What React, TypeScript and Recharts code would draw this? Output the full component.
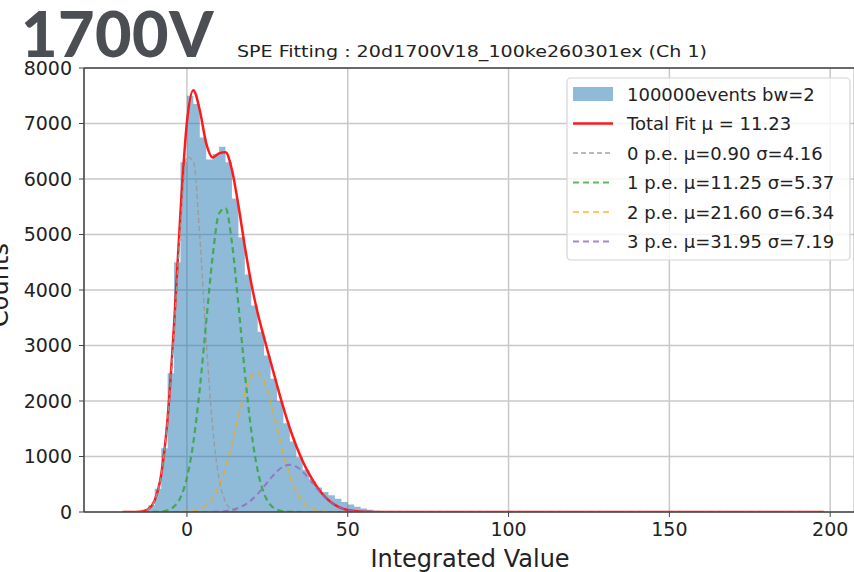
import React from "react";
import { Area, CartesianGrid, ComposedChart, Line, ReferenceLine, XAxis, YAxis } from "recharts";

const fitX = [-20, -18, -16, -14, -12, -10, -8, -6, -4, -2, 0, 2, 4, 6, 8, 10, 12, 14, 16, 18, 20, 22, 24, 26, 28, 30, 32, 34, 36, 38, 40, 42, 44, 46, 48, 50, 52, 54, 56, 58, 60, 198];
const totalFit = [0, 0, 2, 11, 53, 214, 672, 1688, 3371, 5401, 7023, 7600, 7238, 6642, 6388, 6461, 6481, 6163, 5527, 4785, 4121, 3586, 3137, 2712, 2288, 1879, 1509, 1189, 916, 686, 491, 334, 214, 128, 70, 36, 17, 8, 3, 1, 0, 0];
const pe0 = [0, 0, 2, 11, 53, 212, 663, 1656, 3272, 5136, 6399, 6325, 4962, 3090, 1527, 599, 186, 46, 9, 1, 0, 0, 0, 0, 0, 0, 0, 0, 0, 0, 0, 0, 0, 0, 0, 0, 0, 0, 0, 0, 0, 0];
const pe1 = [0, 0, 0, 0, 0, 2, 9, 32, 98, 263, 616, 1254, 2223, 3429, 4605, 5382, 5476, 4850, 3739, 2510, 1466, 745, 330, 127, 43, 12, 3, 1, 0, 0, 0, 0, 0, 0, 0, 0, 0, 0, 0, 0, 0, 0];
const pe2 = [0, 0, 0, 0, 0, 0, 0, 0, 1, 2, 8, 21, 53, 122, 253, 472, 801, 1229, 1706, 2145, 2441, 2515, 2346, 1981, 1514, 1048, 656, 372, 191, 89, 37, 14, 5, 2, 0, 0, 0, 0, 0, 0, 0, 0];
const pe3 = [0, 0, 0, 0, 0, 0, 0, 0, 0, 0, 0, 0, 0, 1, 3, 8, 18, 38, 73, 129, 214, 326, 461, 604, 731, 819, 850, 816, 725, 597, 454, 320, 209, 126, 70, 36, 17, 8, 3, 1, 0, 0];

// histogram, bin width 2, value at the left edge of each bin
const histEdges = [-14, -12, -10, -8, -6, -4, -2, 0, 2, 4, 6, 8, 10, 12, 14, 16, 18, 20, 22, 24, 26, 28, 30, 32, 34, 36, 38, 40, 42, 44, 46, 48, 50, 52, 54, 56, 58, 60, 62, 64];
const histCounts = [30, 120, 420, 1150, 2500, 4500, 6300, 7500, 7350, 6750, 6350, 6450, 6580, 6300, 5650, 4950, 4280, 3720, 3250, 2820, 2400, 2000, 1600, 1270, 985, 760, 560, 440, 360, 300, 240, 180, 135, 95, 65, 40, 22, 10, 4, 0];

const xTicks = [0, 50, 100, 150, 200];
const yTicks = [0, 1000, 2000, 3000, 4000, 5000, 6000, 7000, 8000];

const legendLabels = [
  "100000events bw=2",
  "Total Fit \u03bc = 11.23",
  "0 p.e. \u03bc=0.90 \u03c3=4.16",
  "1 p.e. \u03bc=11.25 \u03c3=5.37",
  "2 p.e. \u03bc=21.60 \u03c3=6.34",
  "3 p.e. \u03bc=31.95 \u03c3=7.19",
];

const FONT = "'DejaVu Sans', sans-serif";

type Row = { x: number; hist?: number; total?: number; p0?: number; p1?: number; p2?: number; p3?: number };

function buildRows(): Row[] {
  const m = new Map<number, Row>();
  const get = (x: number) => {
    if (!m.has(x)) m.set(x, { x });
    return m.get(x)!;
  };
  fitX.forEach((x, i) => {
    const r = get(x);
    r.total = totalFit[i];
    r.p0 = pe0[i];
    r.p1 = pe1[i];
    r.p2 = pe2[i];
    r.p3 = pe3[i];
  });
  histEdges.forEach((x, i) => {
    get(x).hist = histCounts[i];
  });
  return [...m.values()].sort((a, b) => a.x - b.x);
}

const rows = buildRows();

const comps = [
  { key: "p0", color: "#999999", dash: "5 3", width: 1.4, opacity: 0.9 },
  { key: "p1", color: "#2ca02c", dash: "6 4", width: 2.2, opacity: 0.75 },
  { key: "p2", color: "#ffa500", dash: "6 4", width: 2, opacity: 0.6 },
  { key: "p3", color: "#9467bd", dash: "6 4", width: 2, opacity: 0.8 },
];

function Overlay() {
  const rowY = (i: number) => 94 + i * 29.5;
  return (
    <svg width={854} height={572} style={{ position: "absolute", left: 0, top: 0, pointerEvents: "none" }}>
      <text x={21} y={57} fontFamily="Lato, sans-serif" fontWeight={900} fontSize={63} fill="#4b4f54" letterSpacing={0.5}>1700V</text>
      <text x={237} y={57} fontFamily={FONT} fontSize={16} fill="#222" textLength={470} lengthAdjust="spacingAndGlyphs">
        SPE Fitting : 20d1700V18_100ke260301ex (Ch 1)
      </text>
      <text x={470} y={567} textAnchor="middle" fontFamily={FONT} fontSize={24} fill="#222">Integrated Value</text>
      <text x={8} y={285} textAnchor="middle" fontFamily={FONT} fontSize={24} fill="#222" transform="rotate(-90 8 285)">Counts</text>

      <rect x={567} y={78} width={283} height={182} rx={4} fill="#fff" fillOpacity={0.8} stroke="#d4d4d4" strokeWidth={1.2} />
      <rect x={573} y={rowY(0) - 7} width={40} height={14} fill="#1f77b4" fillOpacity={0.5} />
      <line x1={573} x2={613} y1={rowY(1)} y2={rowY(1)} stroke="#ff1a1a" strokeWidth={2.5} />
      {comps.map((c, i) => (
        <line key={c.key} x1={573} x2={613} y1={rowY(i + 2)} y2={rowY(i + 2)} stroke={c.color} strokeWidth={c.width} strokeDasharray={c.dash} strokeOpacity={c.opacity} />
      ))}
      {legendLabels.map((t, i) => (
        <text key={t} x={627} y={rowY(i) + 6.5} fontFamily={FONT} fontSize={18} fill="#222">{t}</text>
      ))}
    </svg>
  );
}

export default function App() {
  return (
    <div style={{ position: "absolute", left: 0, top: 0, width: 854, height: 572, background: "#fff", overflow: "hidden" }}>
      <ComposedChart width={854} height={572} data={rows} margin={{ top: 68, right: 0, bottom: 0, left: 0 }}>
        <CartesianGrid stroke="#c8c8c8" strokeWidth={1.5} />
        <XAxis
          dataKey="x"
          type="number"
          domain={[-32, 207.4]}
          ticks={xTicks}
          allowDataOverflow
          height={60}
          tickSize={5}
          tickMargin={6}
          axisLine={{ stroke: "#444", strokeWidth: 1.5 }}
          tickLine={{ stroke: "#444" }}
          tick={{ fill: "#222", fontSize: 19, fontFamily: FONT }}
        />
        <YAxis
          type="number"
          domain={[0, 8000]}
          ticks={yTicks}
          allowDataOverflow
          width={84}
          tickSize={5}
          tickMargin={7}
          axisLine={{ stroke: "#444", strokeWidth: 1.5 }}
          tickLine={{ stroke: "#444" }}
          tick={{ fill: "#222", fontSize: 19, fontFamily: FONT }}
        />
        <ReferenceLine y={8000} stroke="#444" strokeWidth={1.5} />
        <Area dataKey="hist" type="stepAfter" fill="#1f77b4" fillOpacity={0.5} stroke="none" isAnimationActive={false} dot={false} activeDot={false} />
        <Line dataKey="total" type="monotone" stroke="#ff1a1a" strokeWidth={2.5} dot={false} activeDot={false} connectNulls isAnimationActive={false} />
        {comps.map((c) => (
          <Line
            key={c.key}
            dataKey={c.key}
            type="monotone"
            stroke={c.color}
            strokeOpacity={c.opacity}
            strokeWidth={c.width}
            strokeDasharray={c.dash}
            dot={false}
            activeDot={false}
            connectNulls
            isAnimationActive={false}
          />
        ))}
      </ComposedChart>
      <Overlay />
    </div>
  );
}
